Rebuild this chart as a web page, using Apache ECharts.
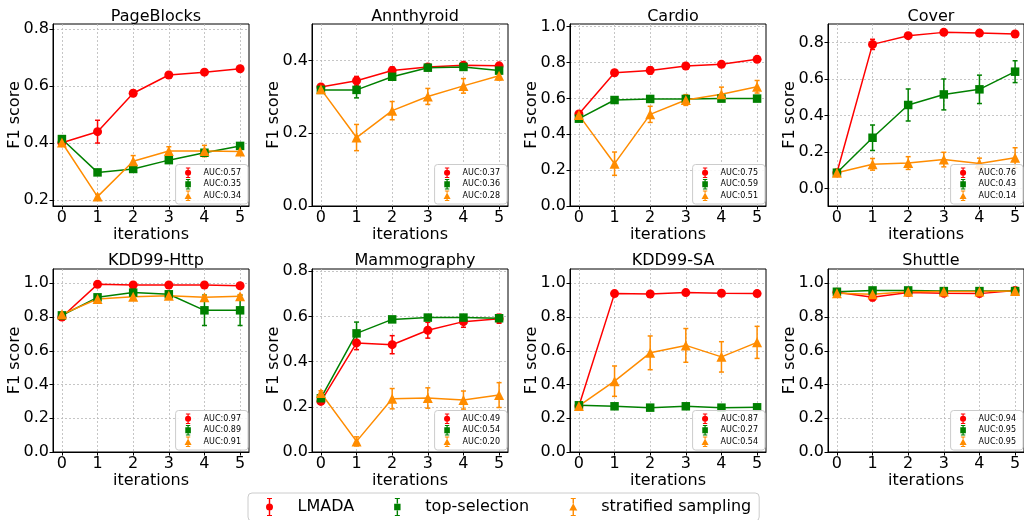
<!DOCTYPE html>
<html>
<head>
<meta charset="utf-8">
<script src="https://cdn.jsdelivr.net/npm/echarts@6/dist/echarts.min.js"></script>
<style>
  html, body { margin: 0; padding: 0; background: #fff; }
  #chart { width: 1024px; height: 520px; }
</style>
</head>
<body>
<div id="chart"></div>
<script>
// ---- data ----
const iterations = [0, 1, 2, 3, 4, 5];
const datasets = ["PageBlocks", "Annthyroid", "Cardio", "Cover", "KDD99-Http", "Mammography", "KDD99-SA", "Shuttle"];

const lmada = [
  [0.401, 0.440, 0.575, 0.639, 0.649, 0.661],
  [0.327, 0.344, 0.372, 0.382, 0.387, 0.385],
  [0.513, 0.743, 0.756, 0.781, 0.790, 0.818],
  [0.086, 0.791, 0.839, 0.857, 0.853, 0.848],
  [0.800, 0.994, 0.990, 0.990, 0.990, 0.986],
  [0.224, 0.483, 0.475, 0.539, 0.577, 0.590],
  [0.273, 0.939, 0.937, 0.945, 0.941, 0.939],
  [0.947, 0.917, 0.945, 0.941, 0.939, 0.958],
];
const lmadaErr = [
  [0.005, 0.040, 0.010, 0.008, 0.006, 0.006],
  [0.004, 0.012, 0.010, 0.006, 0.006, 0.006],
  [0.010, 0.010, 0.020, 0.010, 0.010, 0.010],
  [0.005, 0.028, 0.010, 0.008, 0.006, 0.008],
  [0.010, 0.008, 0.006, 0.006, 0.006, 0.006],
  [0.010, 0.030, 0.040, 0.035, 0.025, 0.020],
  [0.005, 0.010, 0.006, 0.006, 0.008, 0.015],
  [0.006, 0.020, 0.008, 0.008, 0.008, 0.012],
];
const topSel = [
  [0.414, 0.297, 0.309, 0.340, 0.366, 0.390],
  [0.319, 0.319, 0.355, 0.380, 0.382, 0.372],
  [0.487, 0.591, 0.597, 0.597, 0.599, 0.599],
  [0.086, 0.278, 0.458, 0.516, 0.544, 0.641],
  [0.810, 0.917, 0.945, 0.935, 0.840, 0.840],
  [0.238, 0.525, 0.587, 0.595, 0.595, 0.592],
  [0.277, 0.271, 0.263, 0.271, 0.263, 0.265],
  [0.950, 0.958, 0.958, 0.954, 0.954, 0.954],
];
const topSelErr = [
  [0.005, 0.008, 0.008, 0.010, 0.010, 0.010],
  [0.004, 0.022, 0.008, 0.006, 0.006, 0.008],
  [0.010, 0.008, 0.006, 0.006, 0.006, 0.006],
  [0.005, 0.070, 0.088, 0.085, 0.078, 0.060],
  [0.010, 0.015, 0.010, 0.010, 0.090, 0.090],
  [0.010, 0.050, 0.010, 0.006, 0.006, 0.006],
  [0.005, 0.005, 0.005, 0.005, 0.005, 0.005],
  [0.005, 0.005, 0.005, 0.005, 0.005, 0.005],
];
const strat = [
  [0.402, 0.212, 0.336, 0.372, 0.372, 0.370],
  [0.321, 0.188, 0.262, 0.301, 0.330, 0.358],
  [0.507, 0.236, 0.511, 0.591, 0.623, 0.665],
  [0.086, 0.132, 0.139, 0.158, 0.136, 0.168],
  [0.816, 0.907, 0.921, 0.927, 0.917, 0.923],
  [0.261, 0.047, 0.236, 0.239, 0.230, 0.252],
  [0.273, 0.420, 0.588, 0.632, 0.564, 0.650],
  [0.941, 0.935, 0.950, 0.952, 0.952, 0.954],
];
const stratErr = [
  [0.005, 0.008, 0.020, 0.015, 0.020, 0.012],
  [0.004, 0.036, 0.025, 0.022, 0.020, 0.012],
  [0.010, 0.065, 0.045, 0.030, 0.040, 0.035],
  [0.005, 0.032, 0.035, 0.040, 0.030, 0.055],
  [0.010, 0.010, 0.010, 0.010, 0.010, 0.010],
  [0.010, 0.020, 0.045, 0.045, 0.040, 0.055],
  [0.005, 0.090, 0.100, 0.100, 0.090, 0.095],
  [0.005, 0.008, 0.006, 0.006, 0.006, 0.006],
];
const lmadaAuc = ["0.57", "0.37", "0.75", "0.76", "0.97", "0.49", "0.87", "0.94"];
const topSelAuc = ["0.35", "0.36", "0.59", "0.43", "0.89", "0.54", "0.27", "0.95"];
const stratAuc = ["0.34", "0.28", "0.51", "0.14", "0.91", "0.20", "0.54", "0.95"];

const yTicks = [
  [0.2, 0.4, 0.6, 0.8],
  [0.0, 0.2, 0.4],
  [0.0, 0.2, 0.4, 0.6, 0.8, 1.0],
  [0.0, 0.2, 0.4, 0.6, 0.8],
  [0.0, 0.2, 0.4, 0.6, 0.8, 1.0],
  [0.0, 0.2, 0.4, 0.6, 0.8],
  [0.0, 0.2, 0.4, 0.6, 0.8, 1.0],
  [0.0, 0.2, 0.4, 0.6, 0.8, 1.0],
];
const yMin = [0.179, 0, 0, -0.097, 0, 0, 0, 0];
const yMax = [0.818, 0.5, 1.015, 0.903, 1.085, 0.81, 1.085, 1.085];

// ---- layout / style ----
const lefts = [53, 312, 570, 828];
const tops = [24, 269];
const heights = [182, 183];
const W = 196;
const FONT = "DejaVu Sans";

const methods = ["LMADA", "top-selection", "stratified sampling"];
const colors = ["#ff0000", "#008000", "#ff8c00"];
const symbols = ["circle", "rect", "triangle"];
const symbolSizes = [9, 8.5, 10];
const vals = [lmada, topSel, strat];
const errs = [lmadaErr, topSelErr, stratErr];
const aucs = [lmadaAuc, topSelAuc, stratAuc];

// legend handles: marker with a vertical error bar
function handle(len, mark) {
  const m = len / 2;
  const bar = "M3.3,0 L4.7,0 L4.7," + (m - 3.5) + " L3.3," + (m - 3.5) + " Z "
    + "M3.3," + (m + 3.5) + " L4.7," + (m + 3.5) + " L4.7," + len + " L3.3," + len + " Z "
    + "M1.5,0 L6.5,0 L6.5,1.1 L1.5,1.1 Z M1.5," + (len - 1.1) + " L6.5," + (len - 1.1) + " L6.5," + len + " L1.5," + len + " Z ";
  const marks = [
    "M0.5," + m + " A3.5,3.5 0 1 1 7.5," + m + " A3.5,3.5 0 1 1 0.5," + m + " Z",
    "M0.8," + (m - 3.3) + " L7.2," + (m - 3.3) + " L7.2," + (m + 3.3) + " L0.8," + (m + 3.3) + " Z",
    "M4," + (m - 3.8) + " L8," + (m + 3.6) + " L0," + (m + 3.6) + " Z",
  ];
  return "path://" + bar + marks[mark];
}
const bigIcons = [0, 1, 2].map(k => handle(18, k));
const smallIcons = [0, 1, 2].map(k => handle(12, k));

function drawErrorBar(params, api) {
  const x = api.value(0), y = api.value(1), e = api.value(2);
  const hi = api.coord([x, y + e]);
  const lo = api.coord([x, y - e]);
  const c = 2.5;
  const style = { stroke: api.visual("color"), lineWidth: 1.5 };
  return {
    type: "group",
    children: [
      { type: "line", shape: { x1: hi[0], y1: hi[1], x2: lo[0], y2: lo[1] }, style },
      { type: "line", shape: { x1: hi[0] - c, y1: hi[1], x2: hi[0] + c, y2: hi[1] }, style },
      { type: "line", shape: { x1: lo[0] - c, y1: lo[1], x2: lo[0] + c, y2: lo[1] }, style },
    ],
  };
}

const grids = [], xAxes = [], yAxes = [], titles = [], series = [], legends = [];

datasets.forEach((name, i) => {
  const col = i % 4, row = Math.floor(i / 4);
  const left = lefts[col], top = tops[row], h = heights[row];
  grids.push({ left, top, width: W, height: h, show: true, borderColor: "#000", borderWidth: 1, backgroundColor: "transparent" });
  titles.push({
    text: name, left: left + W / 2, top: row === 0 ? 4 : 248, textAlign: "center",
    textStyle: { fontFamily: FONT, fontSize: 16, fontWeight: "normal", color: "#000" },
  });
  xAxes.push({
    type: "value", gridIndex: i, min: -0.25, max: 5.25,
    name: "iterations", nameLocation: "middle", nameGap: 21, nameMoveOverlap: false,
    nameTextStyle: { fontFamily: FONT, fontSize: 16, color: "#000" },
    axisLine: { show: true, onZero: false, lineStyle: { color: "#000", width: 1 } },
    axisTick: { show: true, length: 3.5, customValues: iterations, lineStyle: { color: "#000" } },
    axisLabel: { customValues: iterations, fontFamily: FONT, fontSize: 16, color: "#000", margin: 4, formatter: v => String(Math.round(v)) },
    splitLine: { show: true, lineStyle: { color: "#b8b8b8", width: 0.8, type: [2, 2] } },
  });
  yAxes.push({
    type: "value", gridIndex: i, min: yMin[i], max: yMax[i],
    name: "F1 score", nameLocation: "middle", nameGap: 30, nameMoveOverlap: false,
    nameTextStyle: { fontFamily: FONT, fontSize: 16, color: "#000" },
    axisLine: { show: true, onZero: false, lineStyle: { color: "#000", width: 1 } },
    axisTick: { show: true, length: 3.5, customValues: yTicks[i], lineStyle: { color: "#000" } },
    axisLabel: { customValues: yTicks[i], fontFamily: FONT, fontSize: 16, color: "#000", margin: 4, formatter: v => v.toFixed(1) },
    splitLine: { show: true, lineStyle: { color: "#b8b8b8", width: 0.8, type: [2, 2] } },
  });

  methods.forEach((m, k) => {
    series.push({
      type: "custom", xAxisIndex: i, yAxisIndex: i, silent: true,
      itemStyle: { color: colors[k] },
      encode: { x: 0, y: 1 },
      data: iterations.map((x, j) => [x, vals[k][i][j], errs[k][i][j]]),
      renderItem: drawErrorBar,
    });
    series.push({
      type: "line", name: i + "|" + k, xAxisIndex: i, yAxisIndex: i,
      symbol: symbols[k], symbolSize: symbolSizes[k], showSymbol: true,
      itemStyle: { color: colors[k] },
      lineStyle: { color: colors[k], width: 1.5 },
      data: iterations.map((x, j) => [x, vals[k][i][j]]),
    });
  });

  legends.push({
    orient: "vertical", selectedMode: false,
    right: 1024 - (left + W) + 1, bottom: 520 - (top + h) + 2,
    padding: [3, 7, 3, 9], itemGap: 1, itemWidth: 7, itemHeight: 10.5,
    backgroundColor: "rgba(255,255,255,0.85)", borderColor: "#cccccc", borderWidth: 1, borderRadius: 3,
    itemStyle: { borderWidth: 0 },
    textStyle: { fontFamily: FONT, fontSize: 8, color: "#000", padding: [0, 0, 0, 7] },
    data: methods.map((m, k) => ({ name: i + "|" + k, icon: smallIcons[k] })),
    formatter: n => "AUC:" + aucs[+n.split("|")[1]][+n.split("|")[0]],
  });
});

// entries for the shared legend at the bottom
methods.forEach((m, k) => {
  series.push({ type: "line", name: m, xAxisIndex: 0, yAxisIndex: 0, data: [], itemStyle: { color: colors[k] } });
});
legends.push({
  orient: "horizontal", selectedMode: false, left: 248, top: 493,
  padding: [5, 8, 5, 18], itemGap: 40, itemWidth: 8, itemHeight: 18,
  backgroundColor: "#fff", borderColor: "#cccccc", borderWidth: 1, borderRadius: 4,
  itemStyle: { borderWidth: 0 },
  textStyle: { fontFamily: FONT, fontSize: 16, color: "#000", padding: [0, 0, 0, 19] },
  data: methods.map((m, k) => ({ name: m, icon: bigIcons[k] })),
});

const chart = echarts.init(document.getElementById("chart"), null, { renderer: "canvas" });
chart.setOption({
  animation: false,
  backgroundColor: "#fff",
  textStyle: { fontFamily: FONT },
  title: titles,
  grid: grids,
  xAxis: xAxes,
  yAxis: yAxes,
  legend: legends,
  series,
});
</script>
</body>
</html>
